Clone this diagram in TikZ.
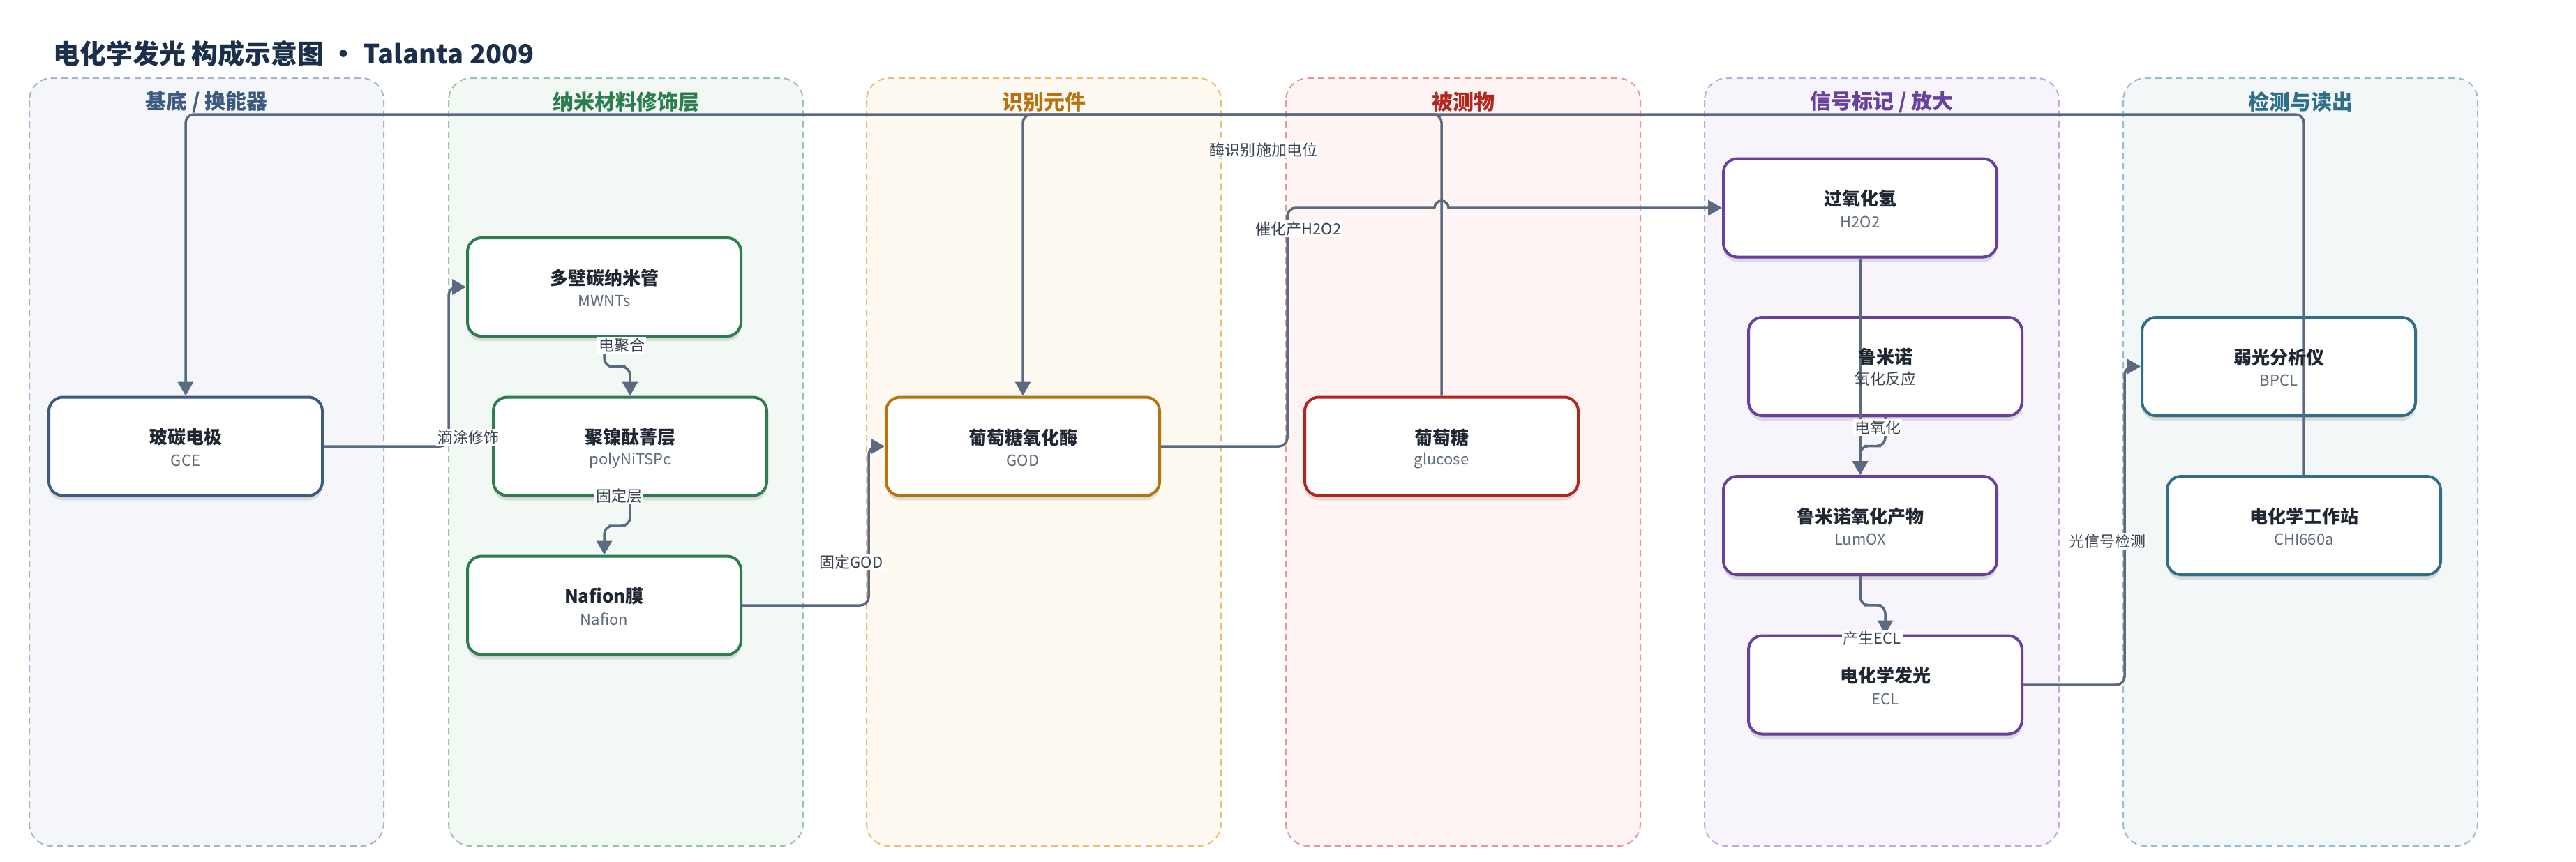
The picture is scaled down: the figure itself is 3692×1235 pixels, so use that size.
\documentclass[tikz,border=0pt]{standalone}
\usepackage{fontspec}
\setmainfont{Noto Sans CJK SC}
\usetikzlibrary{arrows.meta,shadows,calc}

\definecolor{connc}{HTML}{5A6A80}
\definecolor{titlec}{HTML}{1B2F4A}
\definecolor{nodetxt}{HTML}{1F2733}
\definecolor{subtxt}{HTML}{5F6B7A}
\definecolor{lbltxt}{HTML}{3A4250}
% lane colours
\definecolor{laneAfill}{HTML}{F4F6FA}\definecolor{laneAdraw}{HTML}{A8B4C8}\definecolor{laneAtxt}{HTML}{3D5A80}
\definecolor{laneBfill}{HTML}{F2F8F4}\definecolor{laneBdraw}{HTML}{9CC4A8}\definecolor{laneBtxt}{HTML}{2E7D4F}
\definecolor{laneCfill}{HTML}{FEF9F1}\definecolor{laneCdraw}{HTML}{E8BE7A}\definecolor{laneCtxt}{HTML}{B8720E}
\definecolor{laneDfill}{HTML}{FDF4F3}\definecolor{laneDdraw}{HTML}{E39A98}\definecolor{laneDtxt}{HTML}{B3261E}
\definecolor{laneEfill}{HTML}{F7F4FB}\definecolor{laneEdraw}{HTML}{C2A8E0}\definecolor{laneEtxt}{HTML}{6B3FA0}
\definecolor{laneFfill}{HTML}{F3F7F8}\definecolor{laneFdraw}{HTML}{98C0CC}\definecolor{laneFtxt}{HTML}{2F6F8A}
% node border colours
\definecolor{bordA}{HTML}{3D5A80}
\definecolor{bordB}{HTML}{2E7D4F}
\definecolor{bordC}{HTML}{B8720E}
\definecolor{bordD}{HTML}{B3261E}
\definecolor{bordE}{HTML}{6B3FA0}
\definecolor{bordF}{HTML}{2F6F8A}

\begin{document}
\begin{tikzpicture}[x=1pt,y=-1pt,
  lanebox/.style={draw=#1, dash pattern=on 9pt off 6pt, line width=2pt, rounded corners=32pt},
  lanetitle/.style={font=\fontsize{30}{34}\selectfont\bfseries, text=#1},
  box/.style={draw=#1, line width=4pt, fill=white, rounded corners=20pt,
    minimum width=392pt, minimum height=141pt, inner sep=0pt,
    drop shadow={shadow xshift=0pt, shadow yshift=-7pt, opacity=0.10, fill=black},
    drop shadow={shadow xshift=0pt, shadow yshift=-3pt, opacity=0.08, fill=black}},
  ttl/.style={font=\fontsize{26}{30}\selectfont\bfseries, text=nodetxt, inner sep=0pt},
  subt/.style={font=\fontsize{22}{26}\selectfont, text=subtxt, inner sep=0pt},
  lbl/.style={font=\fontsize{22}{26}\selectfont, text=lbltxt, fill=white, inner sep=2pt},
  link/.style={draw=connc, line width=3.5pt, rounded corners=12pt},
  arr/.style={-{Triangle[width=22pt,length=20pt]}},
]
\useasboundingbox (0,0) rectangle (3692,1235);
\fill[white] (0,0) rectangle (3692,1235);

% title
\node[anchor=west, font=\fontsize{38}{44}\selectfont\bfseries, text=titlec, inner sep=0pt] (title) at (76,77) {电化学发光 构成示意图 • Talanta 2009};

% lanes
\path[lanebox=laneAdraw, fill=laneAfill] (42,112) rectangle (550,1213);
\path[lanebox=laneBdraw, fill=laneBfill] (643,112) rectangle (1151,1213);
\path[lanebox=laneCdraw, fill=laneCfill] (1242,112) rectangle (1750,1213);
\path[lanebox=laneDdraw, fill=laneDfill] (1843,112) rectangle (2351,1213);
\path[lanebox=laneEdraw, fill=laneEfill] (2443,112) rectangle (2951,1213);
\path[lanebox=laneFdraw, fill=laneFfill] (3043,112) rectangle (3551,1213);

\node[lanetitle=laneAtxt] (tA) at (296,146) {基底 / 换能器};
\node[lanetitle=laneBtxt] (tB) at (897,146) {纳米材料修饰层};
\node[lanetitle=laneCtxt] (tC) at (1496,146) {识别元件};
\node[lanetitle=laneDtxt] (tD) at (2097,146) {被测物};
\node[lanetitle=laneEtxt] (tE) at (2697,146) {信号标记 / 放大};
\node[lanetitle=laneFtxt] (tF) at (3297,146) {检测与读出};

% boxes
\node[box=bordA] (gce)     at (266,640) {};
\node[box=bordB] (mwnts)   at (866,411.5) {};
\node[box=bordB] (poly)    at (903,640) {};
\node[box=bordB] (nafion)  at (866,868) {};
\node[box=bordC] (god)     at (1466,640) {};
\node[box=bordD] (glucose) at (2066,640) {};
\node[box=bordE] (h2o2)    at (2666,298) {};
\node[box=bordE] (lum)     at (2702,525.5) {};
\node[box=bordE] (lumox)   at (2666,753.5) {};
\node[box=bordE] (ecl)     at (2702,982) {};
\node[box=bordF] (bpcl)    at (3266,525.5) {};
\node[box=bordF] (chi)     at (3302,753.5) {};

\coordinate (topy) at (0,164);

% connectors
\draw[link,arr] (gce.east) -- ++(179,0) |- (mwnts.west);
\draw[link,arr] (mwnts.south) |- ($(mwnts.south)!0.5!(poly.north)$) -| (poly.north);
\draw[link,arr] (poly.south) |- ($(poly.south)!0.5!(nafion.north)$) -| (nafion.north);
\draw[link,arr] (nafion.east) -- ++(181,0) |- (god.west);
\draw[link] (god.east) -- ++(181,0) |- ([xshift=-10pt]h2o2.west -| glucose.north);
\draw[link,arr,sharp corners] ([xshift=-10pt]h2o2.west -| glucose.north) arc[start angle=180,end angle=0,radius=10pt] -- (h2o2.west);
\draw[link,arr] (glucose.north) -- (glucose.north |- topy) -| (god.north);
\draw[link,arr] (chi.north) -- (chi.north |- topy) -| (gce.north);
\draw[link,arr] (h2o2.south) -- (lumox.north);
\draw[link,arr] (lum.south) |- ($(lum.south)!0.5!(lumox.north)$) -| (lumox.north);
\draw[link,arr] (lumox.south) |- ($(lumox.south)!0.5!(ecl.north)$) -| (ecl.north);
\draw[link,arr] (ecl.east) -- ++(145,0) |- (bpcl.west);

% node texts
\node[ttl]  (gceT)  at ([yshift=13pt]gce.center) {玻碳电极};
\node[subt] (gceS)  at ([yshift=-20pt]gce.center) {GCE};
\node[ttl]  (mwT)   at ([yshift=13pt]mwnts.center) {多壁碳纳米管};
\node[subt] (mwS)   at ([yshift=-20pt]mwnts.center) {MWNTs};
\node[ttl]  (polyT) at ([yshift=13pt]poly.center) {聚镍酞菁层};
\node[subt] (polyS) at ([yshift=-20pt]poly.center) {polyNiTSPc};
\node[ttl]  (nafT)  at ([yshift=13pt]nafion.center) {Nafion膜};
\node[subt] (nafS)  at ([yshift=-20pt]nafion.center) {Nafion};
\node[ttl]  (godT)  at ([yshift=13pt]god.center) {葡萄糖氧化酶};
\node[subt] (godS)  at ([yshift=-20pt]god.center) {GOD};
\node[ttl]  (gluT)  at ([yshift=13pt]glucose.center) {葡萄糖};
\node[subt] (gluS)  at ([yshift=-20pt]glucose.center) {glucose};
\node[ttl]  (hT)    at ([yshift=13pt]h2o2.center) {过氧化氢};
\node[subt] (hS)    at ([yshift=-20pt]h2o2.center) {H2O2};
\node[ttl]  (lumT)  at ([yshift=14pt]lum.center) {鲁米诺};
\node[subt,text=lbltxt] (lumS)  at ([yshift=-18pt]lum.center) {氧化反应};
\node[ttl]  (loxT)  at ([yshift=13pt]lumox.center) {鲁米诺氧化产物};
\node[subt] (loxS)  at ([yshift=-20pt]lumox.center) {LumOX};
\node[ttl]  (eclT)  at ([yshift=13pt]ecl.center) {电化学发光};
\node[subt] (eclS)  at ([yshift=-20pt]ecl.center) {ECL};
\node[ttl]  (bpT)   at ([yshift=13pt]bpcl.center) {弱光分析仪};
\node[subt] (bpS)   at ([yshift=-20pt]bpcl.center) {BPCL};
\node[ttl]  (chT)   at ([yshift=13pt]chi.center) {电化学工作站};
\node[subt] (chS)   at ([yshift=-20pt]chi.center) {CHI660a};

% edge labels
\node[lbl] (l1) at (671,627) {滴涂修饰};
\node[lbl] (l2) at (891,495) {电聚合};
\node[lbl] (l3) at (887,711) {固定层};
\node[lbl] (l4) at (1220,806) {固定GOD};
\node[lbl,anchor=east,inner xsep=0pt] (l5) at (1800,215) {酶识别};
\node[lbl,anchor=west,inner xsep=0pt] (l6) at (1800,215) {施加电位};
\node[lbl] (l7) at (1861,328) {催化产H2O2};
\node[lbl] (l8) at (2691,613) {电氧化};
\node[lbl] (l9) at (2683,915) {产生ECL};
\node[lbl] (l10) at (3020,776) {光信号检测};
\end{tikzpicture}
\end{document}
